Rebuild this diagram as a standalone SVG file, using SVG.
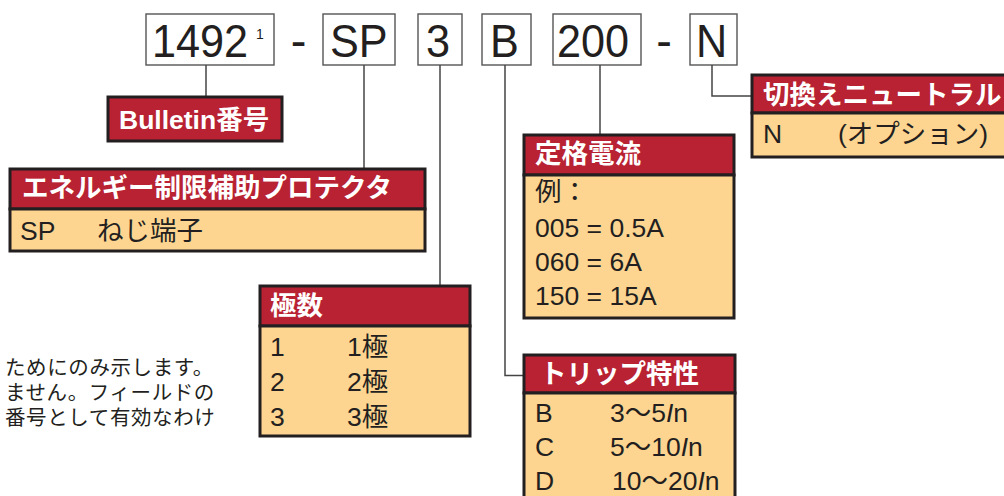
<svg xmlns="http://www.w3.org/2000/svg" width="1004" height="496" viewBox="0 0 1004 496">
<style>
text{font-family:"Liberation Sans","Noto Sans CJK JP",sans-serif;fill:#231F20}
.code{font-size:47px}
.sup{font-size:14px}
.cbox{fill:#fff;stroke:#555;stroke-width:1.4}
.hd{fill:#B82232;stroke:#231F20;stroke-width:3}
.bd{fill:#FDD591;stroke:#231F20;stroke-width:3}
.ht{font-size:26.5px;font-weight:bold;fill:#fff}
.bt{font-size:26.5px}
.note{font-size:20.5px;letter-spacing:0.6px}
.conn{fill:none;stroke:#444;stroke-width:1.5}
.it{font-style:italic}
</style>
<g id="code">
<rect class="cbox" x="146" y="14" width="128" height="51"/>
<text class="code" transform="translate(152 57) scale(0.92 1)">1492</text>
<text class="sup" x="256" y="39">1</text>
<text class="code" x="298.5" y="57" text-anchor="middle">-</text>
<rect class="cbox" x="323" y="14" width="72" height="51"/>
<text class="code" transform="translate(330 57) scale(0.92 1)">SP</text>
<rect class="cbox" x="418" y="14" width="44" height="51"/>
<text class="code" transform="translate(426 57) scale(0.92 1)">3</text>
<rect class="cbox" x="482" y="14" width="49" height="51"/>
<text class="code" transform="translate(490 57) scale(0.92 1)">B</text>
<rect class="cbox" x="553" y="14" width="88" height="51"/>
<text class="code" transform="translate(557 57) scale(0.92 1)">200</text>
<text class="code" x="664" y="57" text-anchor="middle">-</text>
<rect class="cbox" x="690" y="14" width="47" height="51"/>
<text class="code" transform="translate(696 57) scale(0.92 1)">N</text>
</g>
<g id="connectors">
<path class="conn" d="M206 65V97"/>
<path class="conn" d="M364 65V169"/>
<path class="conn" d="M440 65V286"/>
<path class="conn" d="M505 65V375.5H524"/>
<path class="conn" d="M600 65V135"/>
<path class="conn" d="M712 65V96H752"/>
</g>
<g id="bulletin">
<rect class="hd" x="108" y="97" width="174" height="44"/>
<text class="ht" x="119" y="129">Bulletin番号</text>
</g>
<g id="energy">
<rect class="hd" x="10" y="169" width="415" height="40"/>
<rect class="bd" x="10" y="209" width="415" height="42"/>
<text class="ht" x="22" y="197">エネルギー制限補助プロテクタ</text>
<text class="bt" x="20" y="240">SP</text>
<text class="bt" x="97" y="240">ねじ端子</text>
</g>
<g id="poles">
<rect class="hd" x="260" y="286" width="210" height="40"/>
<rect class="bd" x="260" y="326" width="210" height="110"/>
<text class="ht" x="270" y="315">極数</text>
<text class="bt" x="270" y="356">1</text><text class="bt" x="347" y="356">1極</text>
<text class="bt" x="270" y="391">2</text><text class="bt" x="347" y="391">2極</text>
<text class="bt" x="270" y="426">3</text><text class="bt" x="347" y="426">3極</text>
</g>
<g id="current">
<rect class="hd" x="524" y="135" width="210" height="40"/>
<rect class="bd" x="524" y="175" width="210" height="143"/>
<text class="ht" x="535" y="163">定格電流</text>
<text class="bt" x="535" y="201">例：</text>
<text class="bt" x="535" y="237">005 = 0.5A</text>
<text class="bt" x="535" y="271">060 = 6A</text>
<text class="bt" x="535" y="305">150 = 15A</text>
</g>
<g id="trip">
<rect class="hd" x="524" y="355" width="211" height="38"/>
<rect class="bd" x="524" y="393" width="211" height="110"/>
<text class="ht" x="540" y="383">トリップ特性</text>
<text class="bt" x="535" y="422">B</text><text class="bt" x="610" y="422">3～5<tspan class="it">I</tspan>n</text>
<text class="bt" x="535" y="456">C</text><text class="bt" x="610" y="456">5～10<tspan class="it">I</tspan>n</text>
<text class="bt" x="535" y="490">D</text><text class="bt" x="612" y="490">10～20<tspan class="it">I</tspan>n</text>
</g>
<g id="neutral">
<rect class="hd" x="752" y="75" width="260" height="38"/>
<rect class="bd" x="752" y="113" width="260" height="44"/>
<text class="ht" x="763" y="104">切換えニュートラル</text>
<text class="bt" x="763" y="143">N</text>
<text class="bt" x="838" y="143">(オプション)</text>
</g>
<g id="note">
<text class="note" x="5" y="375">ためにのみ示します。</text>
<text class="note" x="5" y="400">ません。フィールドの</text>
<text class="note" x="5" y="425">番号として有効なわけ</text>
</g>
</svg>
